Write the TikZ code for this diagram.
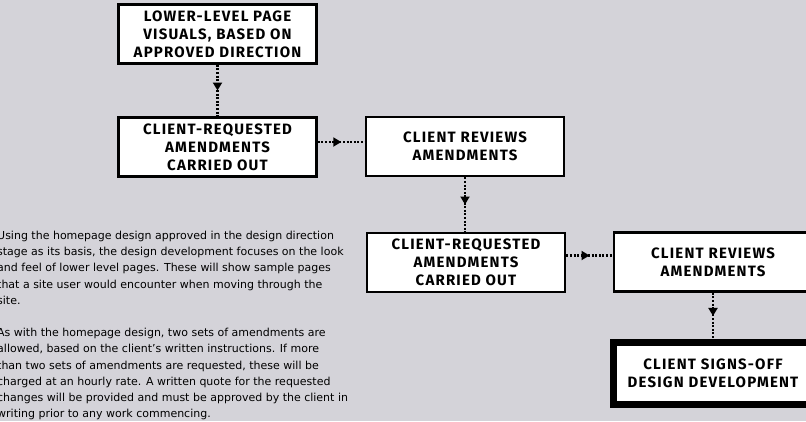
\documentclass[tikz,border=0pt]{standalone}
\usepackage{fontspec}
\setmainfont{DejaVu Sans}
\newfontfamily\boxfont[LetterSpace=8]{Fira Sans}
\usetikzlibrary{arrows.meta,decorations.markings}
\definecolor{paper}{RGB}{212,211,217}

\begin{document}
\begin{tikzpicture}[x=1pt, y=-1pt,
        stagebox/.style={draw, fill=white, line width=2.7pt, inner sep=0pt,
            minimum width=198pt, minimum height=59pt, align=center,
            font=\boxfont\bfseries\fontsize{15}{18}\selectfont},
        signoff/.style={stagebox, line width=7pt, minimum width=199pt, minimum height=62pt},
        flow/.style={line width=2.4pt, dash pattern=on 2pt off 1.6pt,
            postaction={decorate}, decoration={markings,
                mark=at position 0.5 with {\arrow{Triangle[length=8pt,width=9pt]}}}}]
            \fill[paper] (0,0) rectangle (806,421);
            \useasboundingbox (0,0) rectangle (806,421);

            % left column
            \node[stagebox] (visuals) at (217.5,34) {LOWER-LEVEL PAGE\\VISUALS, BASED ON\\APPROVED DIRECTION};
            \node[stagebox] (amendA) at (217.5,147) {CLIENT-REQUESTED\\AMENDMENTS\\CARRIED OUT};

            % middle column
            \node[stagebox] (reviewA) at (465,146.5) {CLIENT REVIEWS\\AMENDMENTS};
            \node[stagebox] (amendB) at (466,262.5) {CLIENT-REQUESTED\\AMENDMENTS\\CARRIED OUT};

            % right column
            \node[stagebox] (reviewB) at (713,262) {CLIENT REVIEWS\\AMENDMENTS};
            \node[signoff] (signoff) at (713,373.5) {CLIENT SIGNS-OFF\\DESIGN DEVELOPMENT};

            \draw[flow] (visuals.south) -- (amendA.north);
            \draw[flow] ([yshift=5pt]amendA.east) -- ([yshift=5pt]amendA.east -| reviewA.west);
            \draw[flow] (reviewA.south) -- (reviewA.south |- amendB.north);
            \draw[flow] ([yshift=7pt]amendB.east) -- ([yshift=7pt]amendB.east -| reviewB.west);
            \draw[flow] (reviewB.south) -- (reviewB.south |- signoff.north);

            \node[anchor=north west, align=left, inner sep=0pt,
                font=\fontsize{11}{16.2}\selectfont] (notes) at (-3,231)
                {Using the homepage design approved in the design direction\\
                stage as its basis, the design development focuses on the look\\
                and feel of lower level pages. These will show sample pages\\
                that a site user would encounter when moving through the\\
                site.\\[16.2pt]
                As with the homepage design, two sets of amendments are\\
                allowed, based on the client's written instructions. If more\\
                than two sets of amendments are requested, these will be\\
                charged at an hourly rate. A written quote for the requested\\
                changes will be provided and must be approved by the client in\\
                writing prior to any work commencing.};
        \end{tikzpicture}
\end{document}
